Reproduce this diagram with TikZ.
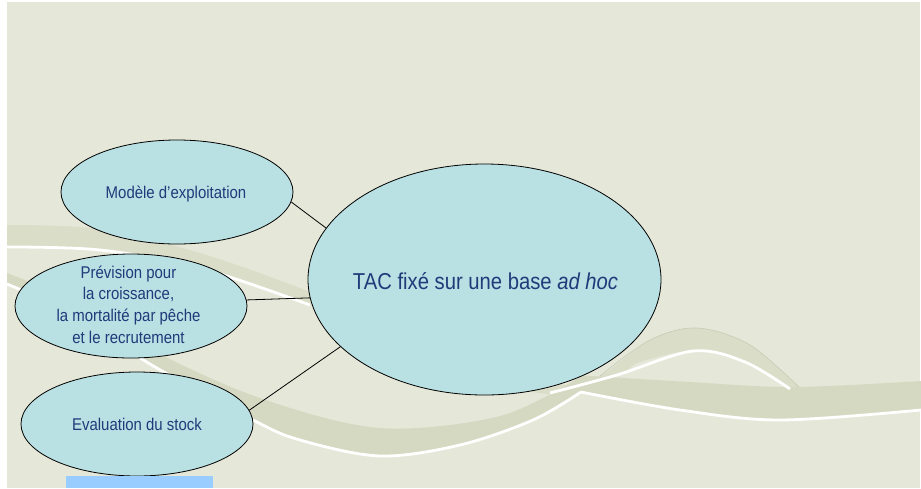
\documentclass[tikz,border=0pt]{standalone}
\usepackage{fontspec}
\setmainfont[FakeStretch=0.88]{Liberation Sans}
\usetikzlibrary{shapes.geometric}

\definecolor{pagebg}{HTML}{E5E8D8}
\definecolor{ribbondark}{HTML}{D6D9C2}
\definecolor{ribbonlight}{HTML}{DADDC8}
\definecolor{ribbonedge}{HTML}{C8CBB4}
\definecolor{bubblefill}{HTML}{B9E0E3}
\definecolor{ink}{HTML}{1F3B7A}
\definecolor{tabblue}{HTML}{99CCFF}

\begin{document}
\begin{tikzpicture}[x=1pt, y=-1pt,
  bubble/.style={ellipse, draw=black, line width=0.8pt, fill=bubblefill, inner sep=0pt},
  smallbubble/.style={bubble, minimum width=232pt, minimum height=104pt},
  smalltext/.style={text=ink, align=center, inner sep=0pt, font=\fontsize{17}{21.7}\selectfont},
  bigtext/.style={text=ink, inner sep=0pt, font=\fontsize{23}{28}\selectfont},
  link/.style={draw=black, line width=0.8pt},
  swoosh/.style={draw=white, line width=2.8pt}]

\useasboundingbox (0,0) rectangle (921,488);

% page background
\fill[white] (0,0) rectangle (921,488);
\fill[pagebg] (7,2) rectangle (920,488);

% upper ribbon, ending in an arch on the right
\fill[ribbonlight] plot[smooth, tension=0.55] coordinates
    {(7,225) (100,229) (200,253) (310,292) (450,350) (560,384) (600,376) (650,340) (697,328) (750,345) (802,390)}
  -- plot[smooth, tension=0.55] coordinates
    {(790,390) (745,362) (693,351) (640,362) (617,376) (550,394) (450,368) (310,305) (200,269) (100,250) (7,248)}
  -- cycle;
\draw[ribbonedge, line width=0.6pt] plot[smooth, tension=0.55] coordinates
    {(600,376) (650,340) (697,328) (750,345) (802,390)};

% lower ribbon
\fill[ribbondark] plot[smooth, tension=0.55] coordinates
    {(7,273) (80,304) (150,349) (260,398) (380,428) (500,416) (578,378)}
  -- plot[smooth, tension=0.55] coordinates
    {(581,392) (533,420) (460,445) (380,456) (300,440) (253,420) (150,365) (80,318) (7,285)}
  -- cycle;
\fill[ribbondark] plot[smooth, tension=0.55] coordinates
    {(576,375) (690,382) (793,387) (921,381)}
  -- plot[smooth, tension=0.55] coordinates
    {(921,410) (780,420) (680,410) (581,392)}
  -- cycle;

% white highlights along the ribbons
\draw[swoosh] plot[smooth, tension=0.55] coordinates {(7,247) (100,250) (200,268) (310,305)};
\draw[swoosh] plot[smooth, tension=0.55] coordinates {(550,393) (617,375) (693,351) (745,362) (790,389)};
\draw[swoosh] plot[smooth, tension=0.55] coordinates
    {(7,284) (80,317) (150,364) (253,420) (300,440) (380,456) (460,445) (533,420) (581,392)};
\draw[swoosh] plot[smooth, tension=0.55] coordinates {(581,392) (680,410) (780,420) (921,410)};

% bubbles
\node[smallbubble] (model) at (177,192) {};
\node[smallbubble] (forecast) at (131,306) {};
\node[smallbubble] (stock) at (137,424) {};
\node[bubble, minimum width=353pt, minimum height=231pt] (tac) at (484.5,279.5) {};

% connectors
\draw[link] (model.-5) -- (tac.162);
\draw[link] (forecast.3.5) -- (tac.186);
\draw[link] (stock.7) -- (tac.205);

% labels
\node[smalltext, anchor=base] (model-label) at (176,198) {Modèle d’exploitation};
\node[smalltext] (forecast-label) at (128.5,304.5) {Prévision pour\\la croissance,\\la mortalité par pêche\\et le recrutement};
\node[smalltext, anchor=base] (stock-label) at (137,430.5) {Evaluation du stock};
\node[bigtext, anchor=base] (tac-label) at (485.5,289) {TAC fixé sur une base \textit{ad hoc}};

% small tab at the bottom edge
\fill[tabblue] (66,476) rectangle (213,488);
\end{tikzpicture}
\end{document}
